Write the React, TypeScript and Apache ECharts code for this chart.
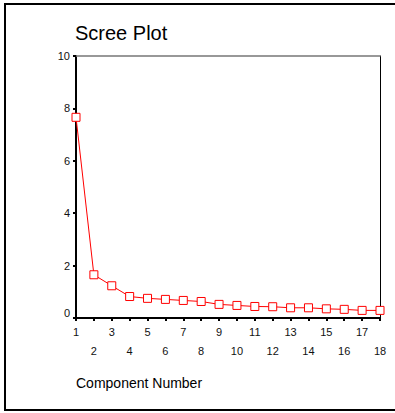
import React, { useEffect, useRef } from "react";
import * as echarts from "echarts";

const components = [1, 2, 3, 4, 5, 6, 7, 8, 9, 10, 11, 12, 13, 14, 15, 16, 17, 18];
const eigenvalues = [7.66, 1.65, 1.23, 0.82, 0.75, 0.71, 0.67, 0.63, 0.52, 0.48, 0.44, 0.43, 0.39, 0.39, 0.35, 0.33, 0.29, 0.29];
const titleText = "Scree Plot";
const xAxisTitle = "Component Number";

const FONT = "'Liberation Sans', Arial, sans-serif";

export default function App() {
  const ref = useRef<HTMLDivElement>(null);
  useEffect(() => {
    if (!ref.current) return;
    const chart = echarts.init(ref.current, null, { renderer: "svg" });
    const data = components.map((c, i) => [c, eigenvalues[i]]);
    chart.setOption({
      animation: false,
      backgroundColor: "#ffffff",
      textStyle: { fontFamily: FONT },
      title: {
        text: titleText,
        left: 75,
        top: 23,
        padding: 0,
        textStyle: { fontFamily: FONT, fontSize: 20, fontWeight: "normal", color: "#000" },
      },
      graphic: [
        {
          type: "rect",
          shape: { x: 5, y: 4, width: 420, height: 406 },
          style: { fill: "none", stroke: "#000", lineWidth: 2 },
          silent: true,
        },
        {
          type: "text",
          left: 76,
          top: 376,
          style: { text: xAxisTitle, fontFamily: FONT, fontSize: 14, fill: "#000" },
        },
      ],
      grid: { left: 76, right: 15, top: 56, bottom: 95 },
      xAxis: [
        {
          type: "value",
          min: 1,
          max: 18,
          interval: 1,
          position: "bottom",
          splitLine: { show: false },
          axisLine: { show: true, onZero: false, lineStyle: { color: "#000", width: 2 } },
          axisTick: { show: true, inside: false, length: 3, lineStyle: { color: "#000", width: 2 } },
          axisLabel: {
            margin: 4,
            fontSize: 11,
            lineHeight: 19,
            color: "#111",
            fontFamily: FONT,
            formatter: (v: number) => (v % 2 === 0 ? "\n" + v : String(v)),
          },
        },
        {
          type: "value",
          min: 1,
          max: 18,
          position: "top",
          splitLine: { show: false },
          axisLine: { show: true, onZero: false, lineStyle: { color: "#777", width: 1.5 } },
          axisTick: { show: false },
          axisLabel: { show: false },
        },
      ],
      yAxis: [
        {
          type: "value",
          min: 0,
          max: 10,
          interval: 2,
          position: "left",
          splitLine: { show: false },
          axisLine: { show: true, onZero: false, lineStyle: { color: "#000", width: 2 } },
          axisTick: { show: true, length: 3, lineStyle: { color: "#000", width: 2 } },
          axisLabel: {
            margin: 6,
            fontSize: 11,
            color: "#111",
            fontFamily: FONT,
            formatter: (v: number) => (v === 0 ? "{z|0}" : String(v)),
            rich: { z: { fontSize: 11, fontFamily: FONT, color: "#111", padding: [0, 0, 10, 0] } },
          },
        },
        {
          type: "value",
          min: 0,
          max: 10,
          position: "right",
          splitLine: { show: false },
          axisLine: { show: true, onZero: false, lineStyle: { color: "#000", width: 1 } },
          axisTick: { show: false },
          axisLabel: { show: false },
        },
      ],
      series: [
        {
          type: "line",
          data,
          xAxisIndex: 0,
          yAxisIndex: 0,
          symbol: "rect",
          symbolSize: 8,
          showAllSymbol: true,
          lineStyle: { color: "#ff0000", width: 1 },
          itemStyle: { color: "#ffffff", borderColor: "#ff0000", borderWidth: 1 },
          z: 5,
        },
      ],
    });
    return () => chart.dispose();
  }, []);
  return (
    <div
      ref={ref}
      style={{ position: "fixed", left: 0, top: 0, width: 395, height: 413 }}
    />
  );
}
